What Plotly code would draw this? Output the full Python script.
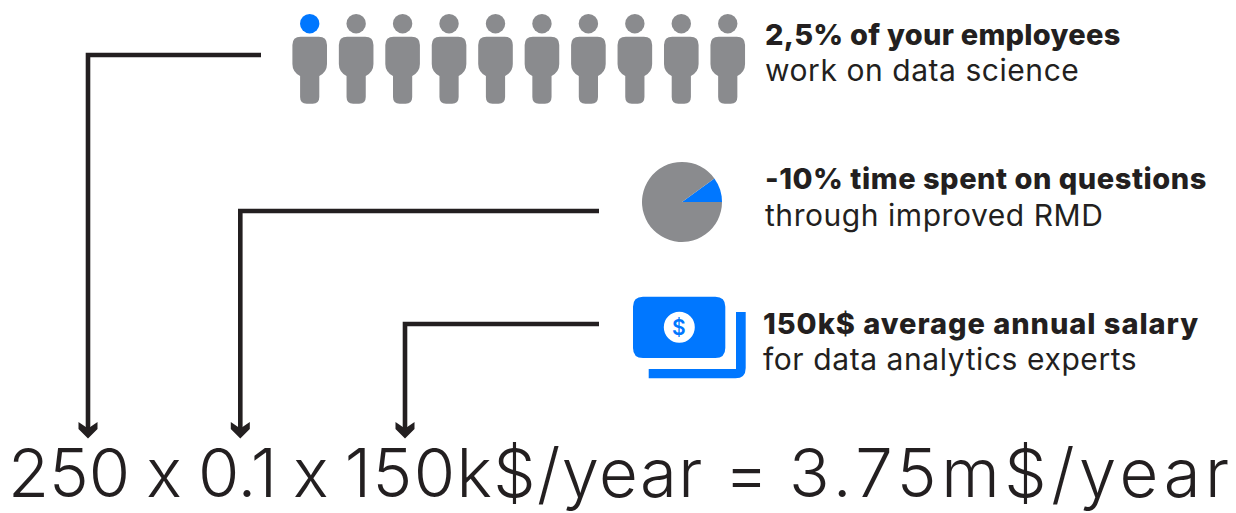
import plotly.graph_objects as go

# ---- data ----
people_count = 10
people_highlighted = 1
pie_labels = ["time saved", "remaining time"]
pie_values = [10, 90]
headline_texts = ["2,5% of your employees", "-10% time spent on questions", "150k$ average annual salary"]
detail_texts = ["work on data science", "through improved RMD", "for data analytics experts"]
equation_parts = ["250 x 0.1 x ", "150k$/year", " = ", "3.75m$/year"]

BLUE = "#0077ff"
GREY = "#8a8b8e"
INK = "#231f20"
FONT = "Inter"
W, H = 1236, 513

fig = go.Figure()
shapes = []


def rrect(x0, y0, x1, y1, r):
    return (f"M{x0+r},{y0} L{x1-r},{y0} Q{x1},{y0} {x1},{y0+r} L{x1},{y1-r} Q{x1},{y1} {x1-r},{y1} "
            f"L{x0+r},{y1} Q{x0},{y1} {x0},{y1-r} L{x0},{y0+r} Q{x0},{y0} {x0+r},{y0} Z")


def fill(path, color):
    shapes.append(dict(type="path", path=path, fillcolor=color, line_width=0, xref="x", yref="y"))


# people row
head_x, head_y = [], []
for i in range(people_count):
    cx = 309.7 + i * 46.45
    head_x.append(cx)
    head_y.append(23.7)
    fill(
        f"M{cx-9},36.7 L{cx+9},36.7 Q{cx+17.3},36.7 {cx+17.3},45 L{cx+17.3},64 "
        f"Q{cx+17.3},72 {cx+9.6},76 L{cx+9.6},97 Q{cx+9.6},103.7 {cx+3},103.7 L{cx-3},103.7 "
        f"Q{cx-9.6},103.7 {cx-9.6},97 L{cx-9.6},76 Q{cx-17.3},72 {cx-17.3},64 L{cx-17.3},45 "
        f"Q{cx-17.3},36.7 {cx-9},36.7 Z",
        GREY,
    )
fig.add_trace(go.Scatter(
    x=head_x, y=head_y, mode="markers", hoverinfo="skip", showlegend=False,
    marker=dict(size=19.4, line_width=0,
                color=[BLUE if i < people_highlighted else GREY for i in range(people_count)]),
))

# pie
fig.add_trace(go.Pie(
    labels=pie_labels, values=pie_values, sort=False, direction="clockwise", rotation=54,
    marker=dict(colors=[BLUE, GREY], line_width=0), textinfo="none", showlegend=False,
    domain=dict(x=[642 / W, 722 / W], y=[1 - 242 / H, 1 - 162 / H]),
))

# money icon
fill("M648.7,369 L736,369 L736,312 L745.7,312 L745.7,368 Q745.7,378.3 735.4,378.3 L648.7,378.3 Z", BLUE)
fill(rrect(633, 296.7, 725.3, 358, 10), BLUE)
shapes.append(dict(type="circle", xref="x", yref="y", x0=663.8, x1=694.8, y0=311.8, y1=342.8,
                   fillcolor="white", line_width=0))

# connectors
connectors = [(261, 55, 88), (599, 211, 240.3), (599, 324, 405)]
for x_start, y_start, x_drop in connectors:
    shapes.append(dict(type="path", xref="x", yref="y", line=dict(color=INK, width=4.6), fillcolor="rgba(0,0,0,0)",
                       path=f"M{x_start},{y_start} L{x_drop},{y_start} L{x_drop},430"))
    fill(f"M{x_drop-9.5},422 L{x_drop},428.5 L{x_drop+9.5},422 L{x_drop+9.5},429 "
         f"L{x_drop},438.5 L{x_drop-9.5},429 Z", INK)

# text
annotations = []


def text(x, y, s, size, color=INK, weight=400, anchor="left", css=""):
    if css:
        s = f'<span style="{css}">{s}</span>'
    annotations.append(dict(x=x, y=y, text=s, xref="x", yref="y", showarrow=False, xanchor=anchor, yanchor="middle",
                            align="left", font=dict(family=FONT, size=size, color=color, weight=weight),
                            borderpad=0, borderwidth=0))


text_pos = [(765, 34, 69.5), (765, 178, 214.5), (763, 323, 358.5)]
head_spacing = [0.27, 0.53, 0.96]
detail_spacing = [0.55, 0.55, 0.58]
for (x, y1, y2), head, detail, hs, ds in zip(text_pos, headline_texts, detail_texts, head_spacing, detail_spacing):
    text(x, y1, head, 29, weight=800, css=f"letter-spacing:{hs}px")
    text(x, y2, detail, 30, css=f"letter-spacing:{ds}px")
text(679.3, 327.3, "$", 21, color=BLUE, weight=600, anchor="center")

equation_css = ["word-spacing:-2.8px", "letter-spacing:1.4px", "word-spacing:2px", "letter-spacing:4.6px"]
equation_markup = "".join(
    f"""<span style="font-feature-settings:'calt' 0;{css}">{part}</span>"""
    for part, css in zip(equation_parts, equation_css)
)
text(8, 472.5, equation_markup, 67, weight=300)

fig.update_layout(
    width=W, height=H, margin=dict(l=0, r=0, t=0, b=0),
    paper_bgcolor="white", plot_bgcolor="white", showlegend=False,
    xaxis=dict(range=[0, W], visible=False, fixedrange=True),
    yaxis=dict(range=[H, 0], visible=False, fixedrange=True),
    shapes=shapes, annotations=annotations,
)
fig.write_html("out.html", config=dict(displayModeBar=False), post_script="document.body.style.margin='0';")
